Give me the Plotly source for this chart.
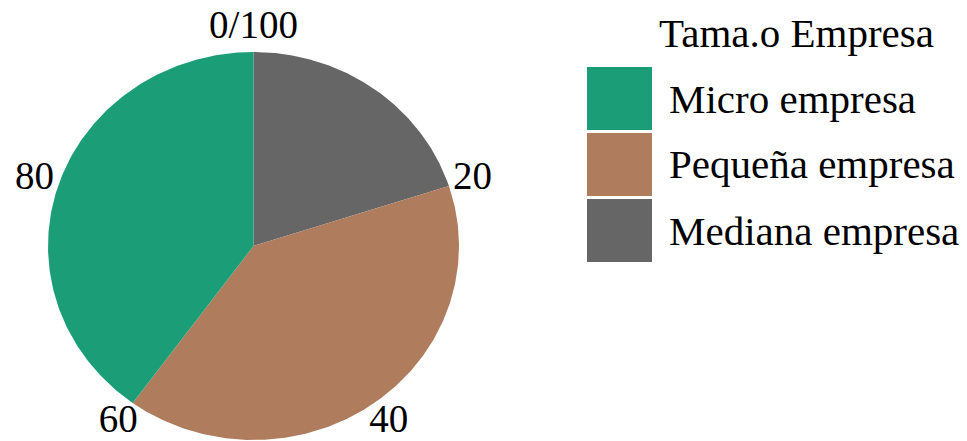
import numpy as np
import plotly.graph_objects as go

# ---- data ----
categories = ["Mediana empresa", "Pequeña empresa", "Micro empresa"]  # clockwise from top
values = [20.0, 40.0, 40.0]
colors = {"Micro empresa": "#1B9E77", "Pequeña empresa": "#AF7C5D", "Mediana empresa": "#666666"}
legend_order = ["Micro empresa", "Pequeña empresa", "Mediana empresa"]
legend_title = "Tama.o Empresa"
tick_vals = [0, 20, 40, 60, 80]
tick_text = ["0/100", "20", "40", "60", "80"]

OFF = 8  # page body margin in the browser
W, H = 967 - OFF, 441 - OFF
FONT = "Liberation Serif"

fig = go.Figure()

total = sum(values)
start = 0.0
for cat, v in zip(categories, values):
    t0 = start / total * 2 * np.pi
    t1 = (start + v) / total * 2 * np.pi
    th = np.linspace(t0, t1, 200)
    xs = np.concatenate([[0], np.sin(th), [0]])
    ys = np.concatenate([[0], np.cos(th), [0]])
    fig.add_trace(go.Scatter(x=xs, y=ys, mode="lines", fill="toself",
                             fillcolor=colors[cat], line=dict(width=0, color=colors[cat]),
                             name=cat, hoverinfo="name", showlegend=False))
    start += v

# tick labels around the pie
r_lab = 1.12
tt = np.array(tick_vals) / total * 2 * np.pi
fig.add_trace(go.Scatter(x=r_lab * np.sin(tt), y=r_lab * np.cos(tt), mode="text",
                         text=tick_text, textposition="middle center",
                         textfont=dict(family=FONT, size=39, color="black"),
                         hoverinfo="skip", showlegend=False))

# manual legend (large keys), positions given in window pixels
def px(x):
    return (x - OFF) / W

def py(y):
    return 1 - (y - OFF) / H

key_x0, key_x1 = 587, 652
key_top, key_h, key_gap = 67, 63, 3
shapes = []
annotations = [dict(x=px(657), y=py(33), xref="paper", yref="paper", text=legend_title,
                    showarrow=False, xanchor="left", yanchor="middle",
                    font=dict(family=FONT, size=41, color="black"))]
for i, cat in enumerate(legend_order):
    y0 = key_top + i * (key_h + key_gap)
    shapes.append(dict(type="rect", xref="paper", yref="paper",
                       x0=px(key_x0), x1=px(key_x1), y0=py(y0), y1=py(y0 + key_h),
                       fillcolor=colors[cat], line=dict(width=0)))
    annotations.append(dict(x=px(667), y=py(y0 + key_h / 2), xref="paper", yref="paper",
                            text=cat, showarrow=False, xanchor="left", yanchor="middle",
                            font=dict(family=FONT, size=41, color="black")))

# axis ranges map the unit pie onto the canvas (center ~ (253.5, 246), rx 205.5, ry 194)
cx, cy, rx, ry = 253.5 - OFF, 246 - OFF, 205.5, 194
fig.update_layout(
    width=W, height=H,
    margin=dict(l=0, r=0, t=0, b=0),
    paper_bgcolor="white", plot_bgcolor="white",
    xaxis=dict(range=[-cx / rx, (W - cx) / rx], visible=False, fixedrange=True),
    yaxis=dict(range=[-(H - cy) / ry, cy / ry], visible=False, fixedrange=True),
    shapes=shapes, annotations=annotations,
    showlegend=False,
)

fig.write_html("out.html")
